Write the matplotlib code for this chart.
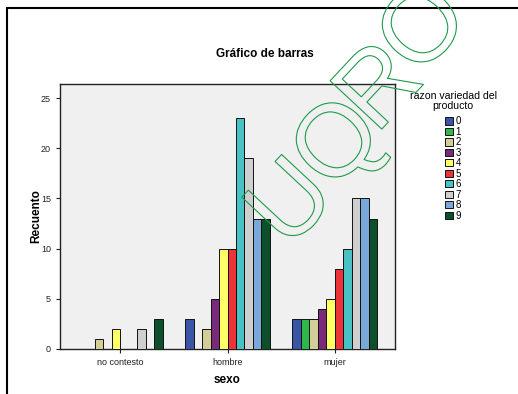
import matplotlib
matplotlib.use('Agg')
import matplotlib.pyplot as plt
import matplotlib.patheffects as pe
from matplotlib.patches import Rectangle
import numpy as np

plt.rcParams['font.family'] = ['Liberation Sans', 'DejaVu Sans']

# datos
sexo = ['no contesto', 'hombre', 'mujer']
razon = ['0', '1', '2', '3', '4', '5', '6', '7', '8', '9']
recuento = {
    '0': [0, 3, 3],
    '1': [0, 0, 3],
    '2': [1, 2, 3],
    '3': [0, 5, 4],
    '4': [2, 10, 5],
    '5': [0, 10, 8],
    '6': [0, 23, 10],
    '7': [2, 19, 15],
    '8': [0, 13, 15],
    '9': [3, 13, 13],
}
colores = ['#3B55A6', '#2EB84A', '#D3CE97', '#7A2A7D', '#FFFF66',
           '#EE3338', '#48C2C5', '#CFCFCF', '#7AA8D8', '#0B4F2B']

W, H = 518, 394
fig = plt.figure(figsize=(W / 100, H / 100), dpi=100)

# axes en pixeles: izq 60, der 395, arriba 84, abajo 349
ax = fig.add_axes([60 / W, 1 - 349 / H, 335 / W, 265 / H])
ax.set_facecolor('#F0F0F0')

x = np.arange(len(sexo))
ancho = 0.079
handles = []
for i, r in enumerate(razon):
    off = (i - 4.5) * ancho
    b = ax.bar(x + off, recuento[r], width=ancho, color=colores[i],
               edgecolor='#111111', linewidth=0.7, zorder=3, label=r)
    handles.append(b)

ax.set_xlim(-0.56, 2.56)
ax.set_ylim(0, 26.4)
ax.set_yticks([0, 5, 10, 15, 20, 25])
ax.set_xticks(x)
ax.set_xticklabels(sexo)
ax.tick_params(labelsize=6.5, length=3, width=0.8, colors='#222222')
for s in ax.spines.values():
    s.set_linewidth(1.0)
    s.set_color('#222222')

ax.set_xlabel('sexo', fontsize=8.5, fontweight='bold', labelpad=5)
ax.set_ylabel('Recuento', fontsize=8.5, fontweight='bold', labelpad=-1)

fig.text(265 / W, 1 - 54 / H, 'Gráfico de barras', ha='center', va='center',
         fontsize=8.5, fontweight='bold')

leg = fig.legend(handles=handles, labels=razon,
                 title='razon variedad del\nproducto',
                 loc='upper left', bbox_to_anchor=(403 / W, 1 - 84 / H),
                 frameon=False, fontsize=7, title_fontsize=7.6,
                 handlelength=0.75, handleheight=0.75, handletextpad=0.3,
                 labelspacing=0.05, borderpad=0.2)
leg._legend_box.align = 'center'
leg._legend_box.sep = 4
leg.get_title().set_multialignment('center')
leg.get_title().set_linespacing(1.0)

# marco exterior
fig.patches.append(Rectangle((7 / W, -0.1), 1.2, 1 - 8 / H + 0.1,
                             transform=fig.transFigure, fill=False,
                             edgecolor='black', linewidth=1.5))

# marca de agua, letra por letra
marca = ['U', 'Q', 'R', 'O']
marca_x = [294, 340, 382, 426]
marca_y = [206, 146, 90, 31]
for letra, mx, my in zip(marca, marca_x, marca_y):
    fig.text(mx / W, 1 - my / H, letra, ha='center', va='center',
             rotation=47, fontsize=74, color='none', rotation_mode='anchor',
             path_effects=[pe.withStroke(linewidth=0.8, foreground='#1E9A4A')],
             zorder=10)

fig.savefig('out.png', dpi=100)
